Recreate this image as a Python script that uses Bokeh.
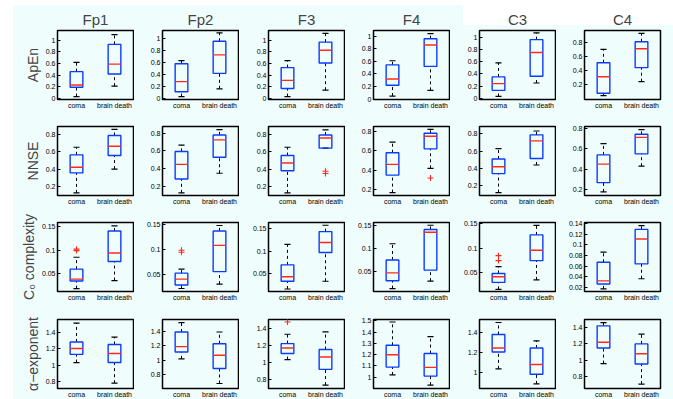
from bokeh.plotting import figure
from bokeh.layouts import row, column
from bokeh.models import Range1d, FixedTicker, NumeralTickFormatter
from bokeh.embed import file_html
from bokeh.resources import INLINE

channels = ["Fp1", "Fp2", "F3", "F4", "C3", "C4"]
groups = ["coma", "brain death"]
metrics = ["ApEn", "NNSE", "C\u2080 complexity", "\u03b1\u2212exponent"]

# box statistics per channel: (whisker low, q1, median, q3, whisker high)
apen_coma = [(0.03, 0.19, 0.23, 0.46, 0.62), (0.03, 0.11, 0.28, 0.58, 0.635), (0.03, 0.17, 0.31, 0.53, 0.65),
             (0.05, 0.22, 0.32, 0.545, 0.61), (0.03, 0.13, 0.24, 0.35, 0.58), (0.04, 0.076, 0.31, 0.51, 0.70)]
apen_bd = [(0.21, 0.42, 0.59, 0.93, 1.10), (0.16, 0.42, 0.73, 0.96, 1.10), (0.14, 0.61, 0.83, 0.97, 1.12),
           (0.14, 0.52, 0.86, 0.96, 1.04), (0.25, 0.36, 0.75, 0.96, 1.07), (0.24, 0.44, 0.71, 0.81, 0.93)]
nnse_coma = [(0.127, 0.356, 0.42, 0.563, 0.65), (0.13, 0.285, 0.45, 0.595, 0.665), (0.127, 0.38, 0.47, 0.555, 0.65),
             (0.17, 0.35, 0.46, 0.58, 0.69), (0.12, 0.34, 0.42, 0.51, 0.63), (0.18, 0.27, 0.45, 0.54, 0.65)]
nnse_bd = [(0.40, 0.555, 0.662, 0.785, 0.854), (0.35, 0.53, 0.725, 0.78, 0.84), (0.64, 0.64, 0.757, 0.79, 0.85),
           (0.42, 0.62, 0.75, 0.78, 0.82), (0.44, 0.515, 0.72, 0.79, 0.835), (0.43, 0.55, 0.71, 0.74, 0.786)]
c0_coma = [(0.019, 0.035, 0.039, 0.06, 0.085), (0.022, 0.029, 0.041, 0.053, 0.061), (0.017, 0.034, 0.044, 0.07, 0.115),
           (0.014, 0.031, 0.048, 0.076, 0.111), (0.017, 0.031, 0.0425, 0.049, 0.063), (0.017, 0.026, 0.032, 0.067, 0.086)]
c0_bd = [(0.036, 0.076, 0.094, 0.14, 0.151), (0.031, 0.056, 0.109, 0.138, 0.149), (0.034, 0.097, 0.119, 0.143, 0.157),
         (0.03, 0.054, 0.136, 0.142, 0.151), (0.036, 0.075, 0.096, 0.127, 0.146), (0.036, 0.064, 0.111, 0.129, 0.136)]
alpha_coma = [(1.03, 1.13, 1.20, 1.28, 1.51), (1.02, 1.115, 1.19, 1.395, 1.525), (1.04, 1.11, 1.176, 1.227, 1.337),
              (1.02, 1.09, 1.20, 1.283, 1.49), (1.037, 1.205, 1.245, 1.38, 1.50), (0.96, 1.15, 1.22, 1.42, 1.46)]
alpha_bd = [(0.78, 1.03, 1.14, 1.25, 1.34), (0.675, 0.885, 1.07, 1.23, 1.395), (0.74, 0.925, 1.07, 1.157, 1.365),
            (0.93, 1.01, 1.087, 1.21, 1.36), (0.886, 0.983, 1.08, 1.245, 1.316), (0.71, 0.955, 1.08, 1.20, 1.32)]

# outliers per channel
apen_coma_out = [[], [], [], [], [], []]
apen_bd_out = [[], [], [], [], [], []]
nnse_coma_out = [[], [], [], [], [], []]
nnse_bd_out = [[], [], [0.375, 0.35], [0.32], [], []]
c0_coma_out = [[0.102, 0.099], [0.099, 0.095], [], [], [0.085, 0.075], []]
c0_bd_out = [[], [], [], [], [], []]
alpha_coma_out = [[], [], [1.48], [], [], []]
alpha_bd_out = [[], [], [], [], [], []]

# y-axis limits per channel
apen_ylim = [(-0.02, 1.17), (-0.02, 1.14), (-0.02, 1.17), (-0.005, 1.09), (-0.02, 1.11), (-0.014, 0.97)]
nnse_ylim = [(0.097, 0.888), (0.10, 0.875), (0.097, 0.888), (0.14, 0.85), (0.086, 0.887), (0.145, 0.816)]
c0_ylim = [(0.013, 0.158), (0.016, 0.155), (0.0115, 0.163), (0.0077, 0.157), (0.0126, 0.152), (0.012, 0.142)]
alpha_ylim = [(0.715, 1.553), (0.605, 1.57), (0.70, 1.51), (0.90, 1.512), (0.84, 1.53), (0.657, 1.497)]

# y ticks per channel
apen_ticks = [[0, 0.2, 0.4, 0.6, 0.8, 1]] * 5 + [[0.2, 0.4, 0.6, 0.8]]
nnse_ticks = [[0.2, 0.4, 0.6, 0.8]] * 6
c0_ticks = [[0.05, 0.1, 0.15]] * 5 + [[0.02, 0.04, 0.06, 0.08, 0.1, 0.12, 0.14]]
alpha_ticks = [[0.8, 1, 1.2, 1.4]] * 3 + [[1, 1.1, 1.2, 1.3, 1.4, 1.5]] + [[1, 1.2, 1.4]] + [[0.8, 1, 1.2, 1.4]]

rows_data = [
    (apen_coma, apen_bd, apen_coma_out, apen_bd_out, apen_ylim, apen_ticks),
    (nnse_coma, nnse_bd, nnse_coma_out, nnse_bd_out, nnse_ylim, nnse_ticks),
    (c0_coma, c0_bd, c0_coma_out, c0_bd_out, c0_ylim, c0_ticks),
    (alpha_coma, alpha_bd, alpha_coma_out, alpha_bd_out, alpha_ylim, alpha_ticks),
]

BG = "#effdfd"
BLUE = "#0a3cff"
RED = "#ff2a1a"
FONT = "Liberation Sans"
HW = 0.167
CAP = 0.08

left_borders = [57, 28, 29, 28, 29, 28]
right_borders = [1, 1, 1, 1, 1, 13]
top_borders = [30, 3, 13, 3]
bottom_borders = [24, 14, 25, 10]

rows = []
for r, (coma, bd, coma_out, bd_out, ylim, ticks) in enumerate(rows_data):
    row_figs = []
    for c in range(6):
        p = figure(frame_width=76, frame_height=69, output_backend="svg", toolbar_location=None,
                   x_range=Range1d(0.5, 2.5), y_range=Range1d(*ylim[c]),
                   min_border_left=left_borders[c], min_border_right=right_borders[c],
                   min_border_top=top_borders[r], min_border_bottom=bottom_borders[r])
        p.background_fill_color = None
        p.border_fill_color = None
        p.outline_line_color = "black"
        p.outline_line_width = 1.5
        p.xgrid.visible = False
        p.ygrid.visible = False
        stats = [coma[c], bd[c]]
        outs = [coma_out[c], bd_out[c]]
        xs = [i + 1 for i in range(len(groups))]
        wl = [s[0] for s in stats]
        q1 = [s[1] for s in stats]
        md = [s[2] for s in stats]
        q3 = [s[3] for s in stats]
        wh = [s[4] for s in stats]
        p.segment(x0=xs, y0=q3, x1=xs, y1=wh, line_color="black", line_width=1, line_dash="3 3")
        p.segment(x0=xs, y0=wl, x1=xs, y1=q1, line_color="black", line_width=1, line_dash="3 3")
        p.segment(x0=[x - CAP for x in xs], y0=wh, x1=[x + CAP for x in xs], y1=wh, line_color="black", line_width=1.2)
        p.segment(x0=[x - CAP for x in xs], y0=wl, x1=[x + CAP for x in xs], y1=wl, line_color="black", line_width=1.2)
        p.quad(left=[x - HW for x in xs], right=[x + HW for x in xs], bottom=q1, top=q3,
               fill_color=None, line_color=BLUE, line_width=1.4)
        p.segment(x0=[x - HW for x in xs], y0=md, x1=[x + HW for x in xs], y1=md, line_color=RED, line_width=1.4)
        ox, oy = [], []
        for i, o in enumerate(outs):
            for v in o:
                ox.append(xs[i])
                oy.append(v)
        if ox:
            p.scatter(ox, oy, marker="cross", size=6, line_color=RED, line_width=1.1)

        p.xaxis.ticker = FixedTicker(ticks=xs)
        p.xaxis.major_label_overrides = {xs[i]: groups[i] for i in range(len(groups))}
        p.yaxis.ticker = FixedTicker(ticks=ticks[c])
        p.yaxis.formatter = NumeralTickFormatter(format="0.[00]")
        for ax in (p.xaxis, p.yaxis):
            ax.axis_line_color = None
            ax.major_tick_in = 3
            ax.major_tick_out = 0
            ax.minor_tick_line_color = None
            ax.major_label_text_font = FONT
            ax.major_label_text_font_size = "7px"
            ax.major_label_text_color = "black"
            ax.major_label_standoff = 2
        p.xaxis.major_tick_line_color = None
        p.xaxis.major_label_standoff = 2
        if c == 0:
            p.yaxis.axis_label = metrics[r]
            p.yaxis.axis_label_text_font = FONT
            p.yaxis.axis_label_text_font_size = "14px"
            p.yaxis.axis_label_text_font_style = "normal"
            p.yaxis.axis_label_standoff = 2
        if r == 0:
            p.title.text = channels[c]
            p.title.align = "center"
            p.title.text_font = FONT
            p.title.text_font_size = "15px"
            p.title.text_font_style = "normal"
            p.title.standoff = 5
        row_figs.append(p)
    rows.append(row(*row_figs))

bg_css = ("linear-gradient(#ffffff,#ffffff) 0 0/13px 100% no-repeat, "
          "linear-gradient(#ffffff,#ffffff) 0 0/100% 5px no-repeat, "
          "linear-gradient(#ffffff,#ffffff) 463px 0/240px 25px no-repeat, " + BG)
layout = column(*rows, styles={"background": bg_css})
open("out.html", "w").write(file_html(layout, INLINE))
